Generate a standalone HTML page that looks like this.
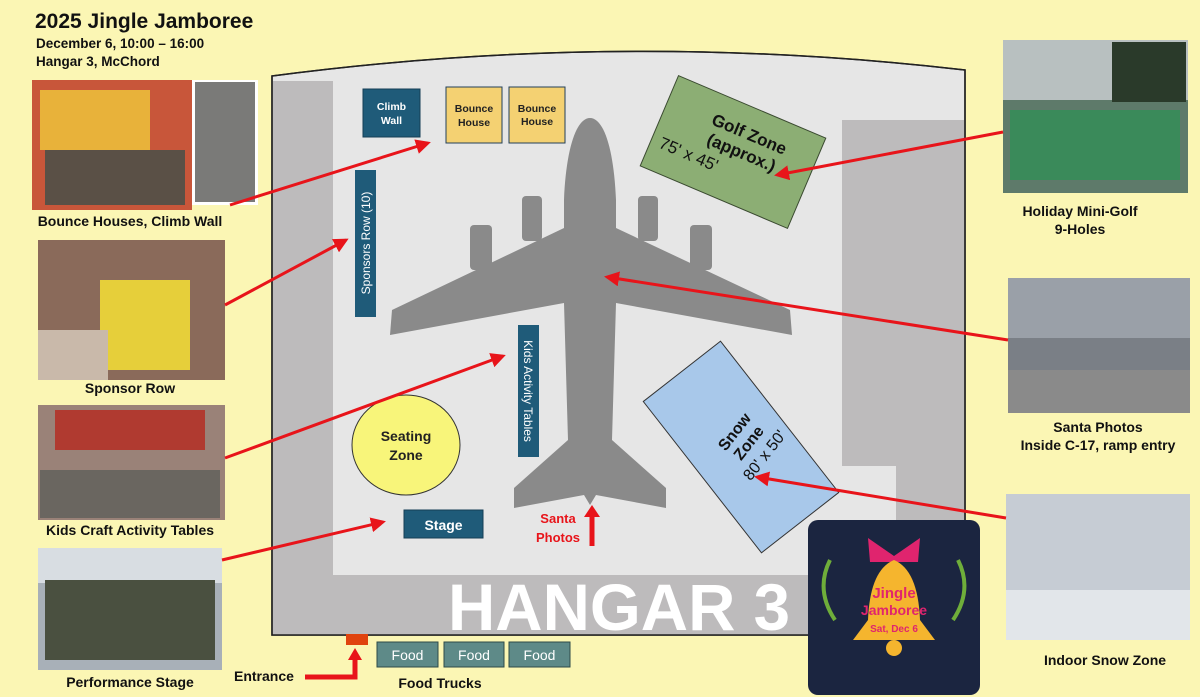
<!DOCTYPE html>
<html><head><meta charset="utf-8"><style>
html,body{margin:0;padding:0;background:#fbf6b4;}
svg{display:block;font-family:"Liberation Sans",sans-serif;}
</style></head><body>
<svg width="1200" height="697" viewBox="0 0 1200 697" xmlns="http://www.w3.org/2000/svg">
<defs>
<marker id="ah" viewBox="0 0 10 10" refX="8" refY="5" markerWidth="5" markerHeight="5" orient="auto"><path d="M0,0 L10,5 L0,10 z" fill="#e8141a"/></marker>
</defs>
<rect width="1200" height="697" fill="#fbf6b4"/>
<text x="35" y="28" font-size="21" font-weight="bold" fill="#111">2025 Jingle Jamboree</text>
<text x="36" y="48" font-size="13.5" font-weight="bold" fill="#111">December 6, 10:00 – 16:00</text>
<text x="36" y="66" font-size="13.5" font-weight="bold" fill="#111">Hangar 3, McChord</text>

<path d="M272,76 Q620,30 965,70 L965,635 L272,635 Z" fill="#e6e6e6" stroke="#222" stroke-width="1.5"/>
<rect x="273" y="81" width="60" height="554" fill="#bdbbbc"/>
<rect x="273" y="575" width="691" height="60" fill="#bdbbbc"/>
<rect x="896" y="120" width="68" height="515" fill="#bdbbbc"/>
<rect x="842" y="120" width="56" height="346" fill="#bdbbbc"/>
<path d="M272,76 Q620,30 965,70 L965,635 L272,635 Z" fill="none" stroke="#222" stroke-width="1.5"/>
<text x="448" y="630" font-size="66" font-weight="bold" fill="#fff" textLength="342" lengthAdjust="spacingAndGlyphs">HANGAR 3</text>

<g fill="#8a8a8a">
<path d="M590,118 C604,118 614,150 616,200 L616,228 L790,310 L792,335 L616,303 L612,440 L666,488 L666,508 L596,495 L590,505 L584,495 L514,508 L514,488 L568,440 L564,303 L390,335 L392,310 L564,228 L564,200 C566,150 576,118 590,118 Z"/>
<rect x="470" y="225" width="22" height="45" rx="4"/>
<rect x="522" y="196" width="20" height="45" rx="4"/>
<rect x="638" y="196" width="20" height="45" rx="4"/>
<rect x="690" y="225" width="22" height="45" rx="4"/>
</g>

<rect x="363" y="89" width="57" height="48" fill="#1f5b79" stroke="#153f55"/>
<text x="391.5" y="110" font-size="10.5" font-weight="bold" fill="#fff" text-anchor="middle">Climb</text>
<text x="391.5" y="124" font-size="10.5" font-weight="bold" fill="#fff" text-anchor="middle">Wall</text>
<rect x="446" y="87" width="56" height="56" fill="#f4d172" stroke="#23405a"/>
<text x="474" y="112" font-size="10.5" font-weight="bold" fill="#222" text-anchor="middle">Bounce</text>
<text x="474" y="126" font-size="10.5" font-weight="bold" fill="#222" text-anchor="middle">House</text>
<rect x="509" y="87" width="56" height="56" fill="#f4d172" stroke="#23405a"/>
<text x="537" y="112" font-size="10.5" font-weight="bold" fill="#222" text-anchor="middle">Bounce</text>
<text x="537" y="125" font-size="10.5" font-weight="bold" fill="#222" text-anchor="middle">House</text>
<rect x="355" y="170" width="21" height="147" fill="#1f5b79"/>
<text transform="translate(370,243) rotate(-90)" font-size="12" fill="#fff" text-anchor="middle">Sponsors Row (10)</text>
<rect x="518" y="325" width="21" height="132" fill="#1f5b79"/>
<text transform="translate(524,391) rotate(90)" font-size="12" fill="#fff" text-anchor="middle">Kids Activity Tables</text>
<ellipse cx="406" cy="445" rx="54" ry="50" fill="#f8f57a" stroke="#333"/>
<text x="406" y="441" font-size="14" font-weight="bold" fill="#222" text-anchor="middle">Seating</text>
<text x="406" y="460" font-size="14" font-weight="bold" fill="#222" text-anchor="middle">Zone</text>
<rect x="404" y="510" width="79" height="28" fill="#1f5b79" stroke="#153f55"/>
<text x="443.5" y="530" font-size="14" font-weight="bold" fill="#fff" text-anchor="middle">Stage</text>
<text x="558" y="523" font-size="13" font-weight="bold" fill="#e8141a" text-anchor="middle">Santa</text>
<text x="558" y="542" font-size="13" font-weight="bold" fill="#e8141a" text-anchor="middle">Photos</text>
<path d="M592,546 L592,515" stroke="#e8141a" stroke-width="5"/>
<path d="M584,517 L592,505 L600,517 Z" fill="#e8141a"/>

<g transform="translate(733,152) rotate(23)">
<rect x="-80" y="-49" width="160" height="98" fill="#8cae74" stroke="#3a4a30"/>
<text x="8" y="-17" font-size="17" font-weight="bold" fill="#111" text-anchor="middle">Golf Zone</text>
<text x="8" y="3" font-size="17" font-weight="bold" fill="#111" text-anchor="middle">(approx.)</text>
<text x="-40" y="25" font-size="17" fill="#111" text-anchor="middle">75' x 45'</text>
</g>
<g transform="translate(741,447) rotate(52)">
<rect x="-96" y="-49" width="192" height="98" fill="#a8c8ea" stroke="#333"/>
</g>
<g transform="translate(745,440) rotate(-52)">
<text x="0" y="-8" font-size="16" font-weight="bold" fill="#111" text-anchor="middle">Snow</text>
<text x="0" y="10" font-size="16" font-weight="bold" fill="#111" text-anchor="middle">Zone</text>
<text x="0" y="30" font-size="16" fill="#111" text-anchor="middle">80' x 50'</text>
</g>

<rect x="346" y="634" width="22" height="11" fill="#e0430e"/>
<path d="M305,677 L355,677 L355,657" fill="none" stroke="#e8141a" stroke-width="5"/>
<path d="M348,660 L355,648 L362,660 Z" fill="#e8141a"/>
<text x="234" y="681" font-size="14" font-weight="bold" fill="#111">Entrance</text>
<rect x="377" y="642" width="61" height="25" fill="#5e8a88" stroke="#2d4a48"/>
<text x="407.5" y="660" font-size="14" fill="#fff" text-anchor="middle">Food</text>
<rect x="444" y="642" width="60" height="25" fill="#5e8a88" stroke="#2d4a48"/>
<text x="474" y="660" font-size="14" fill="#fff" text-anchor="middle">Food</text>
<rect x="509" y="642" width="61" height="25" fill="#5e8a88" stroke="#2d4a48"/>
<text x="539.5" y="660" font-size="14" fill="#fff" text-anchor="middle">Food</text>
<text x="440" y="688" font-size="14" font-weight="bold" fill="#111" text-anchor="middle">Food Trucks</text>

<rect x="32" y="80" width="160" height="130" fill="#c8563a"/>
<rect x="40" y="90" width="110" height="60" fill="#e8b23a"/>
<rect x="45" y="150" width="140" height="55" fill="#5a5046"/>
<rect x="192" y="80" width="66" height="125" fill="#fff"/>
<rect x="195" y="82" width="60" height="120" fill="#7a7a78"/>
<text x="130" y="226" font-size="14" font-weight="bold" fill="#111" text-anchor="middle">Bounce Houses, Climb Wall</text>
<rect x="38" y="240" width="187" height="140" fill="#8a6a5a"/>
<rect x="100" y="280" width="90" height="90" fill="#e6cf3a"/>
<rect x="38" y="330" width="70" height="50" fill="#c9b9aa"/>
<text x="130" y="393" font-size="14" font-weight="bold" fill="#111" text-anchor="middle">Sponsor Row</text>
<rect x="38" y="405" width="187" height="115" fill="#9a8278"/>
<rect x="55" y="410" width="150" height="40" fill="#b03a30"/>
<rect x="40" y="470" width="180" height="48" fill="#6a6660"/>
<text x="130" y="535" font-size="14" font-weight="bold" fill="#111" text-anchor="middle">Kids Craft Activity Tables</text>
<rect x="38" y="548" width="184" height="122" fill="#a8b0b8"/>
<rect x="38" y="548" width="184" height="35" fill="#d8dde2"/>
<rect x="45" y="580" width="170" height="80" fill="#4a5040"/>
<text x="130" y="687" font-size="14" font-weight="bold" fill="#111" text-anchor="middle">Performance Stage</text>

<rect x="1003" y="40" width="185" height="153" fill="#5e7a6a"/>
<rect x="1003" y="40" width="185" height="60" fill="#b8c0c0"/>
<rect x="1010" y="110" width="170" height="70" fill="#3a8a5a"/>
<rect x="1112" y="42" width="74" height="60" fill="#2a3a2a"/>
<text x="1080" y="216" font-size="14" font-weight="bold" fill="#111" text-anchor="middle">Holiday Mini-Golf</text>
<text x="1080" y="234" font-size="14" font-weight="bold" fill="#111" text-anchor="middle">9-Holes</text>
<rect x="1008" y="278" width="182" height="135" fill="#7a7f86"/>
<rect x="1008" y="278" width="182" height="60" fill="#9aa0a8"/>
<rect x="1008" y="370" width="182" height="43" fill="#8a8a8a"/>
<text x="1098" y="432" font-size="14" font-weight="bold" fill="#111" text-anchor="middle">Santa Photos</text>
<text x="1098" y="450" font-size="14" font-weight="bold" fill="#111" text-anchor="middle">Inside C-17, ramp entry</text>
<rect x="1006" y="494" width="184" height="146" fill="#c6ccd4"/>
<rect x="1006" y="590" width="184" height="50" fill="#e2e6ea"/>
<text x="1105" y="665" font-size="14" font-weight="bold" fill="#111" text-anchor="middle">Indoor Snow Zone</text>

<rect x="808" y="520" width="172" height="175" rx="10" fill="#1b2540"/>
<path d="M868,538 L894,556 L920,538 L918,562 L870,562 Z" fill="#e0246e"/>
<path d="M868,620 Q870,570 894,560 Q918,570 920,620 L935,640 L853,640 Z" fill="#f5b52e"/>
<circle cx="894" cy="648" r="8" fill="#f5b52e"/>
<path d="M830,560 q-15,30 5,60 M958,560 q15,30 -5,60" fill="none" stroke="#6fae3a" stroke-width="4"/>
<text x="894" y="598" font-size="15" font-weight="bold" fill="#e0246e" text-anchor="middle">Jingle</text>
<text x="894" y="615" font-size="14" font-weight="bold" fill="#e0246e" text-anchor="middle">Jamboree</text>
<text x="894" y="632" font-size="10" font-weight="bold" fill="#e0246e" text-anchor="middle">Sat, Dec 6</text>

<g stroke="#e8141a" stroke-width="3" marker-end="url(#ah)">
<line x1="230" y1="205" x2="428" y2="143"/>
<line x1="225" y1="305" x2="346" y2="240"/>
<line x1="225" y1="458" x2="503" y2="356"/>
<line x1="222" y1="560" x2="383" y2="522"/>
<line x1="1003" y1="132" x2="777" y2="175"/>
<line x1="1008" y1="340" x2="607" y2="277"/>
<line x1="1006" y1="518" x2="757" y2="477"/>
</g>
</svg>
</body></html>
